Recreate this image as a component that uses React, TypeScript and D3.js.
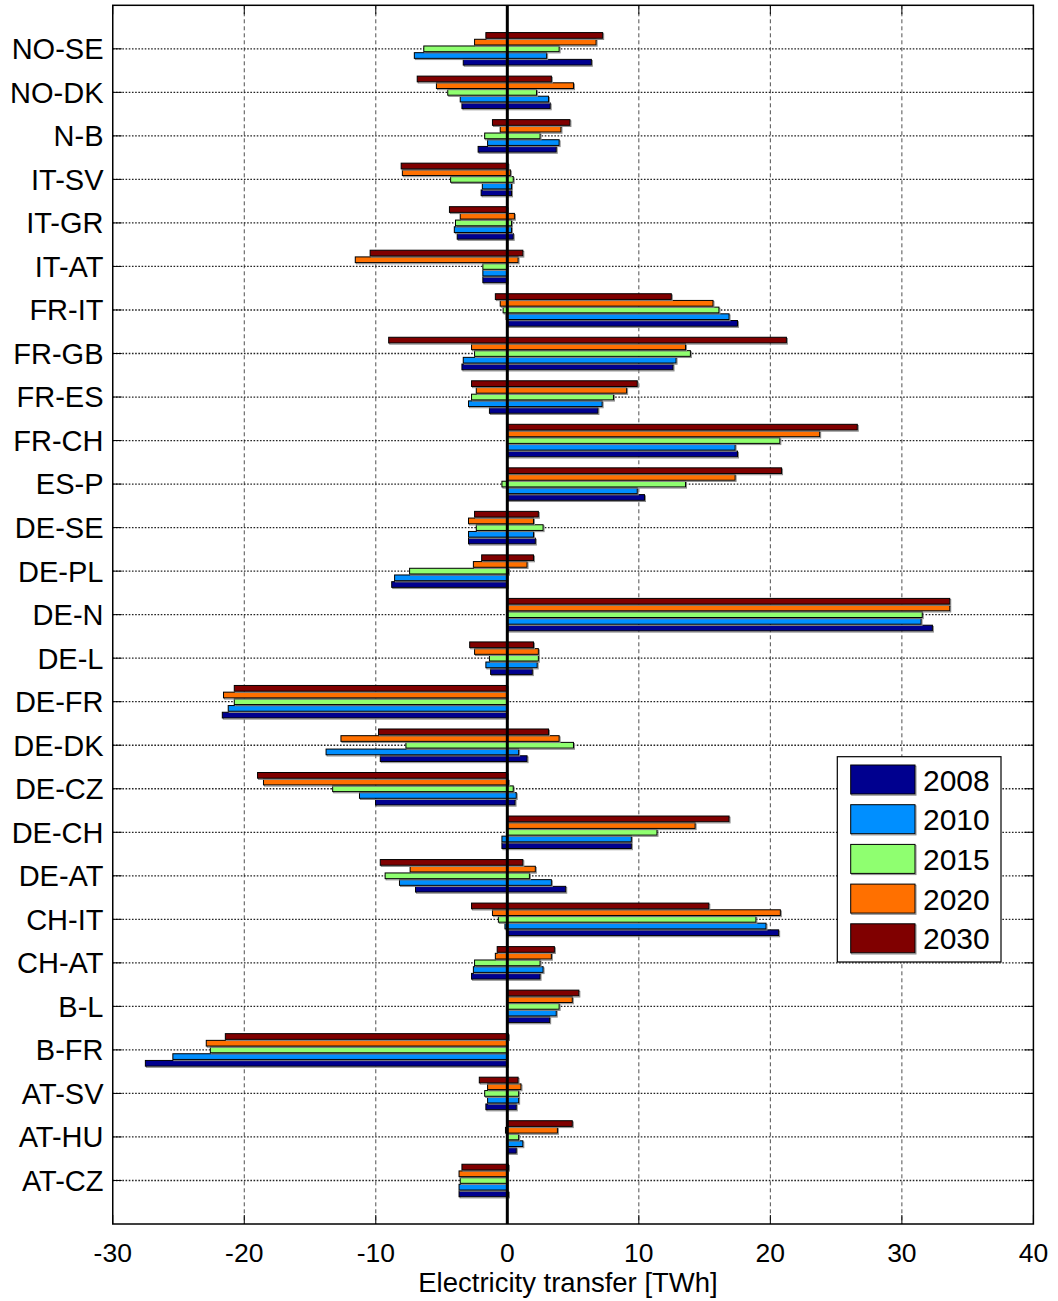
import React from "react";
import * as d3 from "d3";

const categories = ["NO-SE","NO-DK","N-B","IT-SV","IT-GR","IT-AT","FR-IT","FR-GB","FR-ES","FR-CH","ES-P","DE-SE","DE-PL","DE-N","DE-L","DE-FR","DE-DK","DE-CZ","DE-CH","DE-AT","CH-IT","CH-AT","B-L","B-FR","AT-SV","AT-HU","AT-CZ"];
const years = ["2008", "2010", "2015", "2020", "2030"];
const yearColors = ["#00008F", "#008FFF", "#8FFF70", "#FF7000", "#800000"];

const min2008 = [-3.35,-3.45,-2.22,-1.99,-3.81,-1.86,0,-3.45,-1.36,0,0,-2.95,-8.79,0,-1.27,-21.67,-9.66,-10.02,-0.41,-6.98,0,-2.72,0,-27.52,-1.63,0,-3.67];
const max2008 = [6.39,3.26,3.72,0.32,0.45,0,17.5,12.6,6.89,17.5,10.43,2.13,0,32.32,1.9,0,1.5,0.59,9.43,4.44,20.63,2.49,3.22,0,0.68,0.68,0.09];
const min2010 = [-7.07,-3.58,-1.5,-1.9,-4.03,-1.86,-0.09,-3.35,-2.95,0,0,-2.95,-8.57,0,-1.63,-21.22,-13.78,-11.24,-0.41,-8.2,-0.18,-2.58,0,-25.43,-1.5,0,-3.67];
const max2010 = [2.99,3.13,3.94,0.32,0.32,0,16.86,12.83,7.21,17.32,9.88,1.99,0,31.46,2.27,0,0.86,0.68,9.43,3.35,19.67,2.72,3.72,0,0.86,1.18,0];
const min2015 = [-6.35,-4.53,-1.72,-4.31,-3.94,-1.86,-0.32,-2.49,-2.72,0,-0.41,-2.36,-7.43,0,-1.36,-20.76,-7.71,-13.28,0,-9.29,-0.68,-2.49,0,-22.58,-1.72,0,-3.58];
const max2015 = [3.94,2.22,2.49,0.45,0.32,0,16.09,13.92,8.07,20.72,13.55,2.72,0.09,31.55,2.36,0,5.03,0.45,11.38,1.68,18.9,2.49,3.94,0,0.86,0.86,0];
const min2020 = [-2.49,-5.39,-0.54,-7.98,-3.58,-11.56,-0.54,-2.72,-2.36,0,0,-2.95,-2.58,0,-2.49,-21.58,-12.65,-18.54,0,-7.39,-1.13,-0.91,0,-22.89,-1.5,-0.14,-3.67];
const max2020 = [6.75,5.03,4.08,0.23,0.54,0.82,15.64,13.55,9.07,23.75,17.32,1.99,1.5,33.64,2.36,0,3.94,0.09,14.28,2.13,20.76,3.35,4.94,0,1.04,3.81,0];
const min2030 = [-1.63,-6.85,-1.13,-8.07,-4.4,-10.43,-0.91,-9.02,-2.72,0,0,-2.49,-1.95,0,-2.86,-20.76,-9.79,-18.99,0,-9.66,-2.72,-0.77,0,-21.44,-2.13,0,-3.45];
const max2030 = [7.25,3.35,4.76,0.05,0,1.18,12.47,21.22,9.88,26.61,20.85,2.36,1.99,33.64,1.99,0,3.13,0,16.86,1.18,15.32,3.58,5.44,0.09,0.82,4.94,0.09];

const xTicks = [-30, -20, -10, 0, 10, 20, 30, 40];
const xLabel = "Electricity transfer [TWh]";

const mins = [min2008, min2010, min2015, min2020, min2030];
const maxs = [max2008, max2010, max2015, max2020, max2030];

const W = 1058, H = 1301;
const L = 112.75, R = 1033.4, T = 5.3, B = 1224;
const FONT = "'Liberation Sans', Arial, Helvetica, sans-serif";

export default function App() {
  const x = d3.scaleLinear().domain([-30, 40]).range([L, R]);
  const y = d3.scaleLinear().domain([0, categories.length + 1]).range([T, B]);
  const unit = y(1) - y(0);
  const groupW = unit * Math.min(0.8, years.length / (years.length + 1.5));
  // 2030 on top, 2008 at bottom
  const inner = d3.scaleBand().domain([...years].reverse()).range([-groupW / 2, groupW / 2]).paddingInner(0);
  const barH = inner.bandwidth() - 1.0;
  const tickLen = 9;

  const bars: any[] = [];
  categories.forEach((c, i) => {
    const cy = y(i + 1);
    years.forEach((yr, j) => {
      const lo = mins[j][i], hi = maxs[j][i];
      if (hi - lo <= 0) return;
      const by = cy + (inner(yr) as number) + (inner.bandwidth() - barH) / 2;
      const bx = x(lo), bw = x(hi) - x(lo);
      bars.push(
        <g key={c + yr}>
          <rect x={bx + 1} y={by + 1.2} width={bw} height={barH} fill="none" stroke="#8a8a8a" strokeWidth={1} />
          <rect x={bx} y={by} width={bw} height={barH} fill={yearColors[j]} stroke="#000" strokeWidth={1} />
        </g>
      );
    });
  });

  const legX = 837.3, legY = 756.7, legW = 163.7, legH = 205.3;
  const swX = 850.7, swW = 64.3, swH = 29, sw0 = 765, swStep = 39.7;

  return (
    <svg width={W} height={H} style={{ position: "absolute", left: 0, top: 0, background: "#fff" }} fontFamily={FONT}>
      <rect x={0} y={0} width={W} height={H} fill="#fff" />
      {/* vertical grid */}
      {xTicks.filter(t => t > -30 && t < 40).map(t => (
        <line key={"gx" + t} x1={x(t)} x2={x(t)} y1={T} y2={B} stroke="#222" strokeWidth={0.8} strokeDasharray="4,3" />
      ))}
      {/* horizontal grid */}
      {categories.map((c, i) => (
        <line key={"gy" + c} x1={L} x2={R} y1={y(i + 1)} y2={y(i + 1)} stroke="#222" strokeWidth={1.3} strokeDasharray="1.6,1.6" />
      ))}
      {bars}
      {/* zero line */}
      <line x1={x(0)} x2={x(0)} y1={T} y2={B} stroke="#000" strokeWidth={3} />
      {/* axes box */}
      <rect x={L} y={T} width={R - L} height={B - T} fill="none" stroke="#000" strokeWidth={1.5} />
      {/* x ticks */}
      {xTicks.map(t => (
        <g key={"xt" + t}>
          <line x1={x(t)} x2={x(t)} y1={B} y2={B - tickLen} stroke="#000" strokeWidth={1} />
          <line x1={x(t)} x2={x(t)} y1={T} y2={T + tickLen} stroke="#000" strokeWidth={1} />
          <text x={x(t)} y={1261.5} textAnchor="middle" fontSize={26.5} fill="#000">{t}</text>
        </g>
      ))}
      {/* y ticks and labels */}
      {categories.map((c, i) => (
        <g key={"yt" + c}>
          <line x1={L} x2={L + tickLen} y1={y(i + 1)} y2={y(i + 1)} stroke="#000" strokeWidth={1} />
          <line x1={R} x2={R - tickLen} y1={y(i + 1)} y2={y(i + 1)} stroke="#000" strokeWidth={1} />
          <text x={103.5} y={y(i + 1) + 10.4} textAnchor="end" fontSize={29} fill="#000">{c}</text>
        </g>
      ))}
      <text x={568} y={1292} textAnchor="middle" fontSize={27.5} fill="#000">{xLabel}</text>
      {/* legend */}
      <rect x={legX} y={legY} width={legW} height={legH} fill="#fff" stroke="#000" strokeWidth={1.2} />
      {years.map((yr, j) => {
        const sy = sw0 + j * swStep;
        return (
          <g key={"lg" + yr}>
            <rect x={swX + 1} y={sy + 1.2} width={swW} height={swH} fill="none" stroke="#8a8a8a" strokeWidth={1} />
            <rect x={swX} y={sy} width={swW} height={swH} fill={yearColors[j]} stroke="#000" strokeWidth={1} />
            <text x={923} y={sy + swH / 2 + 11} fontSize={30} fill="#000">{yr}</text>
          </g>
        );
      })}
    </svg>
  );
}
